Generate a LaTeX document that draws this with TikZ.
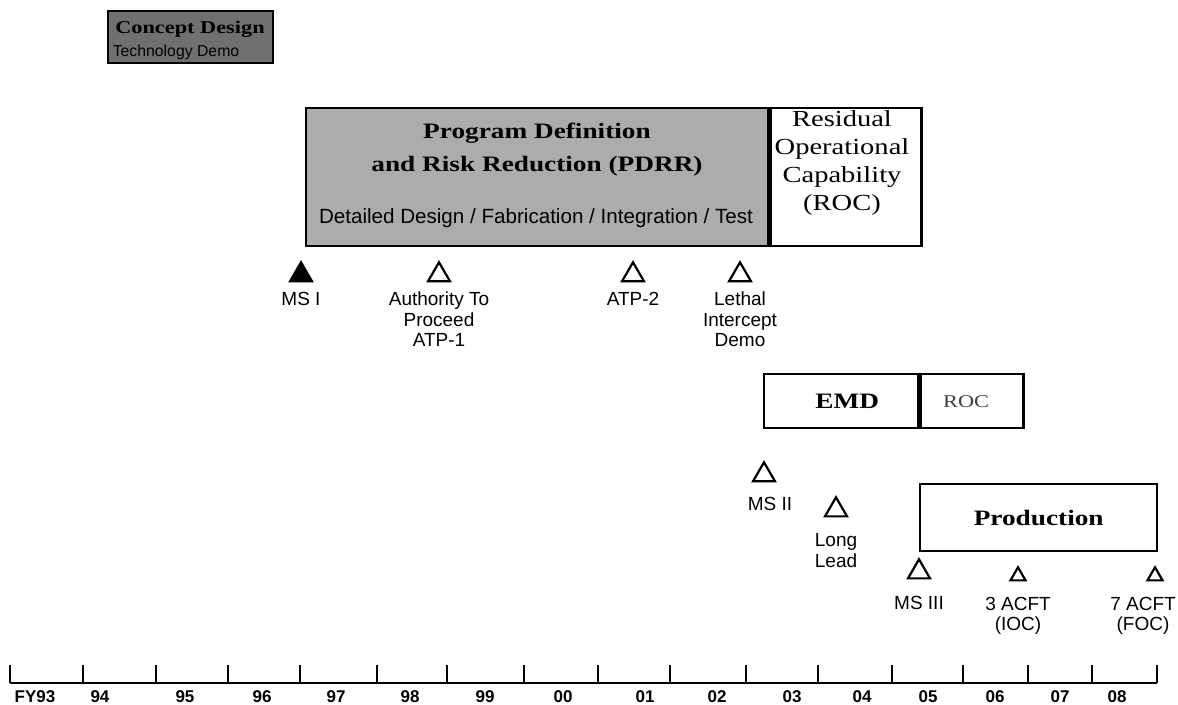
\documentclass[tikz,border=0pt]{standalone}
\usepackage{fontspec}
\setmainfont{Liberation Serif}
\setsansfont{Liberation Sans}
\newfontfamily\boxfont[FakeStretch=1.24]{Liberation Serif}
\usepackage{tikz}
\usetikzlibrary{positioning,shapes.geometric}

\definecolor{conceptgray}{RGB}{112,112,112}
\definecolor{pdrrgray}{RGB}{172,172,172}

\begin{document}
\begin{tikzpicture}[x=0.5pt, y=-0.5pt, node distance=4.5pt,
    phase/.style={rectangle, draw, line width=1.2pt, anchor=north west, inner sep=0pt},
    title/.style={font=\boxfont\bfseries\fontsize{11}{16.5}\selectfont, align=center, inner sep=0pt},
    roctext/.style={font=\boxfont\fontsize{11.5}{13.85}\selectfont, align=center, inner sep=0pt},
    sub/.style={font=\sffamily\fontsize{10.3}{12}\selectfont, inner sep=0pt},
    mstone/.style={regular polygon, regular polygon sides=3, draw, line width=1.1pt, minimum size=12.7pt, inner sep=0pt},
    smallstone/.style={mstone, minimum size=8.7pt},
    mlabel/.style={font=\sffamily\fontsize{9.5}{10.25}\selectfont, align=center, inner sep=0pt},
    year/.style={font=\sffamily\bfseries\fontsize{8.5}{10}\selectfont, inner sep=0pt}]

    \useasboundingbox (0,0) rectangle (1178,705);

    % Phases
    \node [phase, fill=conceptgray, minimum width=82.5pt, minimum height=26pt] (concept) at (107,10) {};
    \node [title, font=\boxfont\bfseries\fontsize{9}{10}\selectfont] (concepttitle) at (190,29) {Concept Design};
    \node [sub, font=\sffamily\fontsize{7.9}{9}\selectfont] (conceptsub) at (176,52) {Technology Demo};

    \node [phase, fill=pdrrgray, minimum width=231pt, minimum height=69pt] (pdrr) at (305,107) {};
    \node [title] (pdrrtitle) at (537,150) {Program Definition\\and Risk Reduction (PDRR)};
    \node [sub] (pdrrsub) at (536,218) {Detailed Design / Fabrication / Integration / Test};

    \node [phase, fill=white, minimum width=75.5pt, minimum height=69pt] (roc) at (pdrr.north east) {};
    \node [roctext] (roctitle) at (842,163) {Residual\\Operational\\Capability\\(ROC)};

    \node [phase, fill=white, minimum width=77pt, minimum height=27pt] (emd) at (763,373) {};
    \node [phase, fill=white, minimum width=51.5pt, minimum height=27pt] (emdroc) at (emd.north east) {};
    \node [title] (emdtitle) at ([xshift=3pt]emd.center) {EMD};
    \node [roctext, font=\boxfont\fontsize{9}{10}\selectfont, text=black!75] (emdroctitle) at ([xshift=-3pt]emdroc.center) {ROC};

    \node [phase, fill=white, minimum width=118.5pt, minimum height=33.5pt] (prod) at (919,483) {};
    \node [title] (prodtitle) at (prod.center) {Production};

    % Milestones
    \node [mstone, fill=black] (ms1) at (301,275) {};
    \node [mlabel, below=of ms1] (ms1lab) {MS I};
    \node [mstone] (atp1) at (439,275) {};
    \node [mlabel, below=of atp1] (atp1lab) {Authority To\\Proceed\\ATP-1};
    \node [mstone] (atp2) at (633,275) {};
    \node [mlabel, below=of atp2] (atp2lab) {ATP-2};
    \node [mstone] (lethal) at (740,275) {};
    \node [mlabel, below=of lethal] (lethallab) {Lethal\\Intercept\\Demo};

    \node [mstone] (ms2) at (764,475) {};
    \node [mlabel, below=7pt of ms2, xshift=3pt] (ms2lab) {MS II};
    \node [mstone] (longlead) at (836,510) {};
    \node [mlabel, below=8pt of longlead] (longleadlab) {Long\\Lead};
    \node [mstone] (ms3) at (919,572) {};
    \node [mlabel, below=8pt of ms3] (ms3lab) {MS III};
    \node [smallstone] (acft3) at (1018,576) {};
    \node [mlabel, below=7.5pt of acft3] (acft3lab) {3 ACFT\\(IOC)};
    \node [smallstone] (acft7) at (1155,576) {};
    \node [mlabel, below=7.5pt of acft7, xshift=-6pt] (acft7lab) {7 ACFT\\(FOC)};

    % Time axis
    \foreach \x [count=\i] in {10,83,156,228,300,377,447,524,598,670,746,818,892,963,1028,1092,1157}
        \coordinate (t\i) at (\x,683);
    \draw [line width=1pt] (t1) -- (t17);
    \foreach \i in {1,2,4,7,9,11,13,15,16}
        \draw [line width=1.4pt] (t\i) -- ++(0,-18);
    \foreach \i in {3,5,6,8,10,12,14,17}
        \draw [line width=0.6pt] (t\i) -- ++(0,-18);

    % Years
    \foreach \lx/\lab [count=\i] in {35/FY93,100/94,185/95,262/96,336/97,410/98,485/99,563/00,
        645/01,717/02,792/03,862/04,928/05,995/06,1060/07,1117/08}
        \node [year] (yr\i) at (\lx,697) {\lab};

\end{tikzpicture}
\end{document}
